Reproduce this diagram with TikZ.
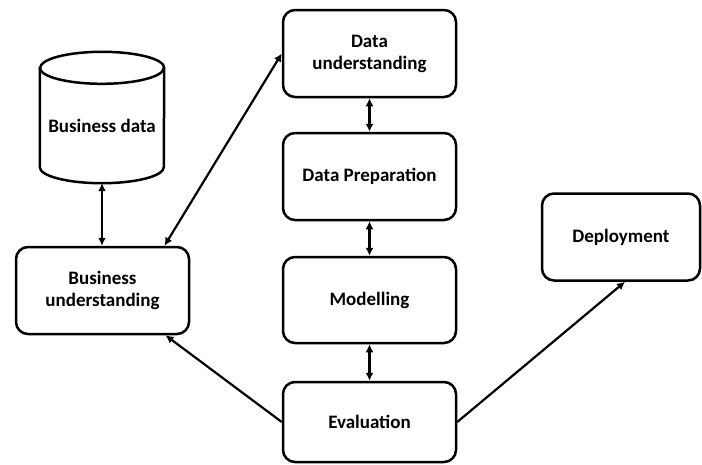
\documentclass[tikz,border=0pt]{standalone}
\usepackage{fontspec}
\setmainfont{Carlito}
\usetikzlibrary{arrows.meta,calc}
\tikzset{
  box/.style={draw=black, line width=2.5pt, rounded corners=12pt, fill=white,
    align=center, inner sep=0pt, font=\fontsize{19}{22}\selectfont\bfseries,
    minimum width=173pt, minimum height=87pt},
  link/.style={draw=black, line width=2.2pt, -{Latex[length=8pt,width=8pt]}},
  dlink/.style={draw=black, line width=2.2pt, {Latex[length=8pt,width=8pt]}-{Latex[length=8pt,width=8pt]}},
  cyl/.style={draw=black, line width=2.5pt, fill=white}
}
\begin{document}
\begin{tikzpicture}[x=1pt,y=-1pt]
\useasboundingbox (0,0) rectangle (702,464);
% Business data cylinder
\node[minimum width=124pt, minimum height=131pt, inner sep=0pt] (bd) at (102,117.5) {};
\path[cyl] (bd.north west) ++(0,16) -- ($(bd.south west)+(0,-16)$)
  arc[start angle=180, end angle=360, x radius=62pt, y radius=16pt]
  -- ($(bd.north east)+(0,16)$)
  arc[start angle=0, end angle=180, x radius=62pt, y radius=16pt] -- cycle;
\draw[cyl, fill=none] ($(bd.north west)+(0,16)$)
  arc[start angle=180, end angle=360, x radius=62pt, y radius=16pt];
\node[font=\fontsize{19}{22}\selectfont\bfseries] (bdt) at (102,126) {Business data};

\node[box] (bu) at (102.5,290.5) {Business\\understanding};
\node[box] (du) at (369.5,53.5) {Data\\understanding};
\node[box] (dp) at (369.5,176.5) {Data Preparation};
\node[box, minimum height=86pt] (mod) at (369.5,300) {Modelling};
\node[box, minimum height=80pt] (ev) at (369.5,422) {Evaluation};
\node[box, minimum width=158pt] (dep) at (621,237) {Deployment};

\draw[dlink] (bd.south) -- (bd.south |- bu.north);
\draw[dlink] (du.west) -- ([xshift=62pt]bu.north);
\draw[dlink] (du.south) -- (dp.north);
\draw[dlink] (dp.south) -- (mod.north);
\draw[dlink] (mod.south) -- (ev.north);
\draw[link] (ev.west) -- ([xshift=63pt]bu.south);
\draw[link] (ev.east) -- ([xshift=4pt]dep.south);
\end{tikzpicture}
\end{document}
